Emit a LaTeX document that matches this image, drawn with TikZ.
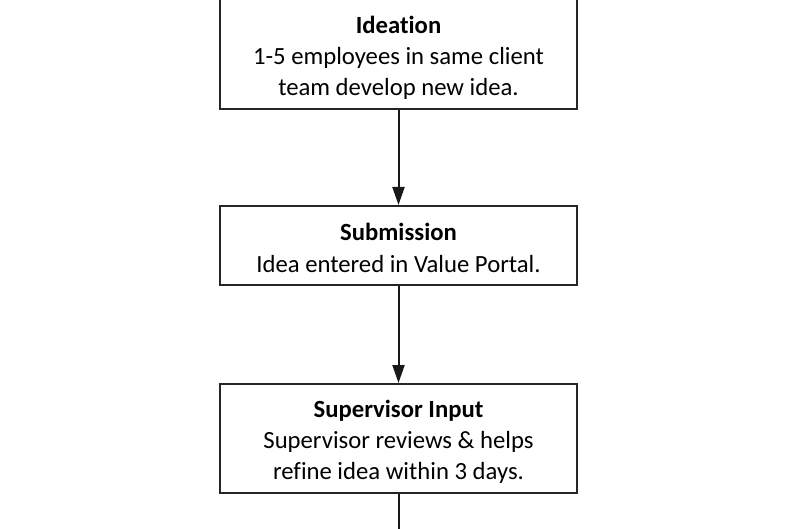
\documentclass[tikz,border=0pt]{standalone}
\usepackage{fontspec}
\setmainfont[Ligatures=NoCommon]{Carlito}
\usetikzlibrary{arrows.meta}
\begin{document}
\begin{tikzpicture}[x=1pt,y=-1pt,
  box/.style={draw=black!85, line width=2pt, minimum width=357pt, inner sep=0pt},
  label/.style={inner sep=0pt, align=center, font=\fontsize{24.7pt}{31.3pt}\selectfont},
  flow/.style={draw=black!90, line width=2pt, -{Triangle[length=18pt,width=12pt]}},
  plain/.style={draw=black!90, line width=2pt}]
\useasboundingbox (0,0) rectangle (800,529);
\node[box, minimum height=111pt] (ideation) at (398.5,53.5) {};
\node[label] (ideationtext) at (398.5,58)
  {\textbf{Ideation}\\1-5 employees in same client\\team develop new idea.};
\node[box, minimum height=79pt] (submission) at (398.5,245.5) {};
\node[label] (submissiontext) at (398.5,248)
  {\textbf{Submission}\\Idea entered in Value Portal.};
\node[box, minimum height=109pt] (supervisor) at (398.5,438.5) {};
\node[label] (supervisortext) at (398.5,442)
  {\textbf{Supervisor Input}\\Supervisor reviews \& helps\\refine idea within 3 days.};
\coordinate (below) at (398.5,540);
\draw[flow] (ideation) -- (submission);
\draw[flow] (submission) -- (supervisor);
\draw[plain] (supervisor) -- (below);
\end{tikzpicture}
\end{document}
